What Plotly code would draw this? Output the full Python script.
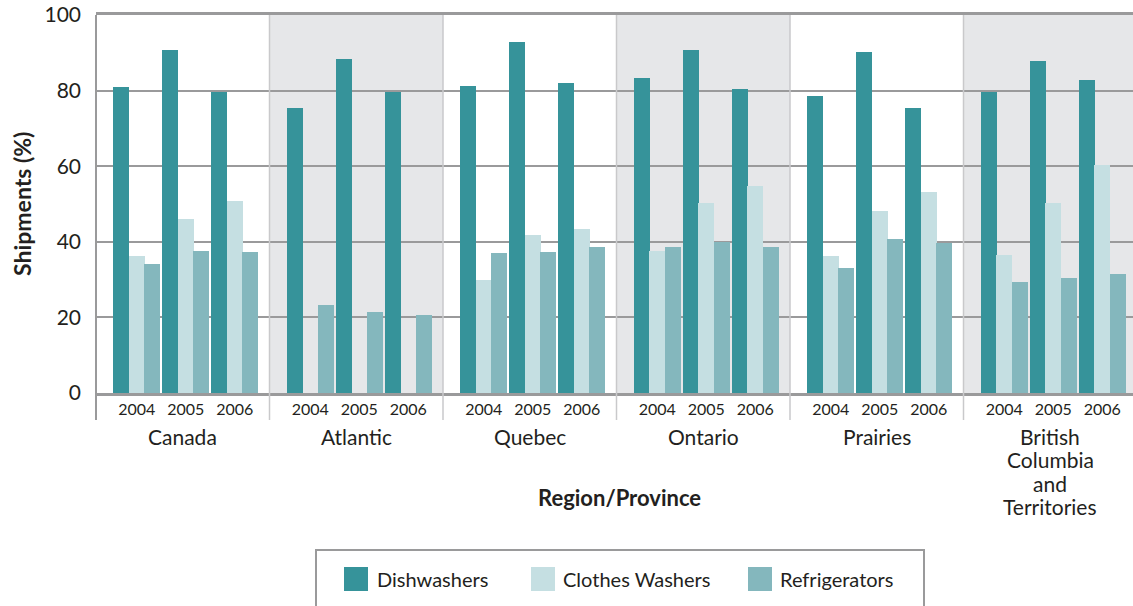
import plotly.graph_objects as go

# ---------------- data ----------------
regions = ["Canada", "Atlantic", "Quebec", "Ontario", "Prairies",
           "British<br>Columbia<br>and<br>Territories"]
years = ["2004", "2005", "2006"]
series_names = ["Dishwashers", "Clothes Washers", "Refrigerators"]

dishwashers = [
    [81.0, 90.7, 79.6],
    [75.4, 88.4, 79.6],
    [81.2, 92.9, 82.0],
    [83.3, 90.7, 80.4],
    [78.6, 90.2, 75.4],
    [79.6, 87.8, 82.8],
]
clothes_washers = [
    [36.2, 46.0, 50.8],
    [None, None, None],
    [29.9, 41.8, 43.4],
    [37.6, 50.3, 54.8],
    [36.2, 48.1, 53.2],
    [36.5, 50.3, 60.3],
]
refrigerators = [
    [34.1, 37.6, 37.3],
    [23.3, 21.4, 20.6],
    [37.0, 37.3, 38.6],
    [38.6, 39.9, 38.6],
    [33.1, 40.7, 39.7],
    [29.4, 30.4, 31.5],
]
y_ticks = [0, 20, 40, 60, 80, 100]

# ---------------- styling / layout ----------------
colors = ["#36939a", "#c5dfe2", "#84b7bd"]
FONT = "Lato"
TXT = "#231f20"
GRID = "#9a9a9b"
SHADE = "#e6e7e9"
SEP = "#c9c9cb"

OFF = 0  # body margin removed via post_script
W, H = 1133 - OFF, 606 - OFF
L, T = 96 - OFF, 15 - OFF
R = 0
B = H - (393 - OFF)
pw, ph = W - L - R, H - T - B
region_px = 173.5
x_range = [-0.5, -0.5 + pw / region_px]

year_off = [-0.265, 0.017, 0.30]
series_off = [-0.089, 0.0, 0.089]
bar_w = 0.092


def px_x(p):
    """screen x pixel -> paper"""
    return (p - OFF - L) / pw


def px_y(p):
    """screen y pixel -> paper"""
    return (H - B - (p - OFF)) / ph


def data_x_to_paper(v):
    return (v - x_range[0]) / (x_range[1] - x_range[0])


fig = go.Figure()
all_series = [dishwashers, clothes_washers, refrigerators]
for s, (name, vals) in enumerate(zip(series_names, all_series)):
    xs, ys = [], []
    for ri, row in enumerate(vals):
        for yi, v in enumerate(row):
            xs.append(ri + year_off[yi] + series_off[s])
            ys.append(v)
    fig.add_trace(go.Bar(x=xs, y=ys, width=bar_w, name=name,
                         marker=dict(color=colors[s], line=dict(width=0)),
                         showlegend=False))

shapes = []
for ri in range(len(regions)):
    if ri % 2 == 1:
        shapes.append(dict(type="rect", xref="x", yref="y", x0=ri - 0.5, x1=ri + 0.5,
                           y0=0, y1=100, fillcolor=SHADE, line=dict(width=0), layer="below"))
for ri in range(1, len(regions)):
    xp = data_x_to_paper(ri - 0.5)
    shapes.append(dict(type="line", xref="paper", yref="paper", x0=xp, x1=xp,
                       y0=px_y(420), y1=1, line=dict(color=SEP, width=1.5), layer="above"))
shapes.append(dict(type="line", xref="paper", yref="paper", x0=0, x1=0,
                   y0=px_y(420), y1=1, line=dict(color=GRID, width=2)))

# legend
shapes.append(dict(type="rect", xref="paper", yref="paper", x0=px_x(316), x1=px_x(924),
                   y0=px_y(550), y1=px_y(640), line=dict(color=GRID, width=2),
                   fillcolor="white"))
annotations = []
sw_x = [344, 531, 748]
tx_x = [375, 561, 778]
for i, name in enumerate(series_names):
    shapes.append(dict(type="rect", xref="paper", yref="paper",
                       x0=px_x(sw_x[i]), x1=px_x(sw_x[i] + 24),
                       y0=px_y(567), y1=px_y(591), fillcolor=colors[i], line=dict(width=0)))
    annotations.append(dict(xref="paper", yref="paper", x=px_x(tx_x[i]), y=px_y(579),
                            text=name, showarrow=False, xanchor="left", yanchor="middle",
                            font=dict(family=FONT, size=20, color=TXT)))

# region labels (one annotation per line to control leading)
for ri, rname in enumerate(regions):
    for j, line in enumerate(rname.split("<br>")):
        annotations.append(dict(xref="x", yref="paper", x=ri, y=px_y(436 + 23.6 * j),
                                text=line, showarrow=False, xanchor="center",
                                yanchor="middle",
                                font=dict(family=FONT, size=21, color=TXT)))

annotations.append(dict(xref="paper", yref="paper", x=px_x(619), y=px_y(497),
                        text="<b>Region/Province</b>", showarrow=False,
                        xanchor="center", yanchor="middle",
                        font=dict(family=FONT, size=22, color=TXT)))
annotations.append(dict(xref="paper", yref="paper", x=px_x(22), y=px_y(204),
                        text="<b>Shipments (%)</b>", showarrow=False, textangle=-90,
                        xanchor="center", yanchor="middle",
                        font=dict(family=FONT, size=23, color=TXT)))

tickvals = [ri + yo for ri in range(len(regions)) for yo in year_off]
ticktext = [y for _ in regions for y in years]

fig.update_layout(
    width=W, height=H,
    margin=dict(l=L, r=R, t=T, b=B, pad=0, autoexpand=False),
    plot_bgcolor="white", paper_bgcolor="white",
    barmode="overlay", bargap=0,
    shapes=shapes, annotations=annotations,
    font=dict(family=FONT, color=TXT),
    xaxis=dict(range=x_range, tickmode="array", tickvals=tickvals, ticktext=ticktext,
               showgrid=False, zeroline=False, showline=True, mirror=True,
               linecolor=GRID, linewidth=2.5, ticks="", ticklabelstandoff=0,
               automargin=False,
               tickfont=dict(family=FONT, size=16, color=TXT), fixedrange=True),
    yaxis=dict(range=[0, 100], tickmode="array", tickvals=y_ticks,
               showgrid=True, gridcolor=GRID, gridwidth=2, zeroline=False,
               showline=False, ticks="", ticklabelstandoff=14,
               ticklabeloverflow="allow", automargin=False,
               tickfont=dict(family=FONT, size=21, color=TXT), fixedrange=True),
)

fig.write_html("out.html", config={"displayModeBar": False},
               post_script="document.body.style.margin='0';document.body.style.overflow='hidden';")
